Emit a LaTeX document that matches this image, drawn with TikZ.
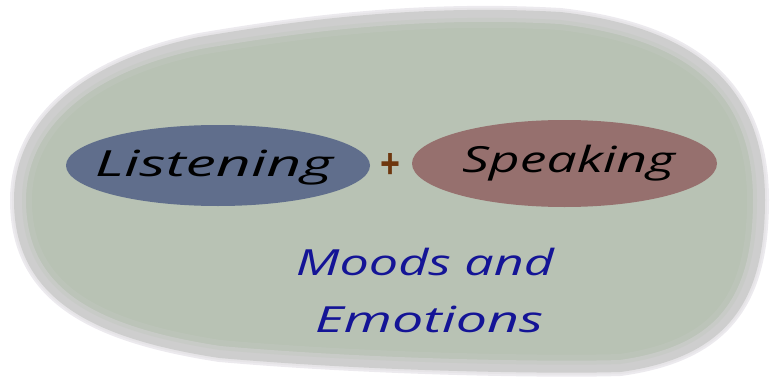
\documentclass[tikz,border=0pt]{standalone}
\usepackage{graphicx}
\usepackage{fontspec}
\setmainfont{Open Sans}
\usetikzlibrary{shapes.geometric}
\definecolor{blobfill}{RGB}{184,194,180}
\definecolor{halo}{RGB}{206,206,206}
\definecolor{fringe}{RGB}{236,234,238}
\definecolor{lblue}{RGB}{96,110,140}
\definecolor{smauve}{RGB}{150,112,110}
\definecolor{plusc}{RGB}{110,55,15}
\definecolor{moodc}{RGB}{20,20,150}
\tikzset{
  blobpath/.style={insert path={(22,200) .. controls (22,290) and (90,330) .. (220,350)
     .. controls (380,364) and (560,366) .. (620,364)
     .. controls (720,350) and (757,300) .. (757,200)
     .. controls (757,90) and (690,35) .. (560,20)
     .. controls (420,12) and (300,28) .. (200,45)
     .. controls (80,70) and (22,130) .. (22,200) -- cycle}},
  oval/.style={ellipse, inner sep=0pt},
  handtext/.style={font=\fontsize{36}{42}\selectfont\itshape, inner sep=0pt, anchor=base}
}
\newcommand{\fitw}[2]{\resizebox{#1}{\height}{#2}}
\begin{document}
\begin{tikzpicture}[x=1pt,y=-1pt]
\useasboundingbox (0,0) rectangle (777,380);
\draw[fringe, line width=24pt] [blobpath];
\draw[halo, line width=16pt] [blobpath];
\fill[blobfill] [blobpath];
\draw[halo, line width=20pt, opacity=0.2] [blobpath];
\draw[halo, line width=8pt, opacity=0.7] [blobpath];
\node[oval, fill=lblue, minimum width=304pt, minimum height=81pt] (L) at (218,165.5) {};
\node[oval, fill=smauve, minimum width=305pt, minimum height=87pt] (S) at (564.5,163.5) {};
\node[handtext, text=black] (Lt) at (214,176) {\fitw{238pt}{Listening}};
\node[handtext, text=black] (St) at (568.5,172) {\fitw{213pt}{Speaking}};
\node[inner sep=0pt, text=plusc, font=\fontsize{30}{30}\selectfont\bfseries] (P) at (390,166) {\resizebox{20pt}{26pt}{+}};
\node[handtext, text=moodc] (M1) at (425,275) {\fitw{258pt}{Moods and}};
\node[handtext, text=moodc] (M2) at (429,332) {\fitw{228pt}{Emotions}};
\end{tikzpicture}
\end{document}
